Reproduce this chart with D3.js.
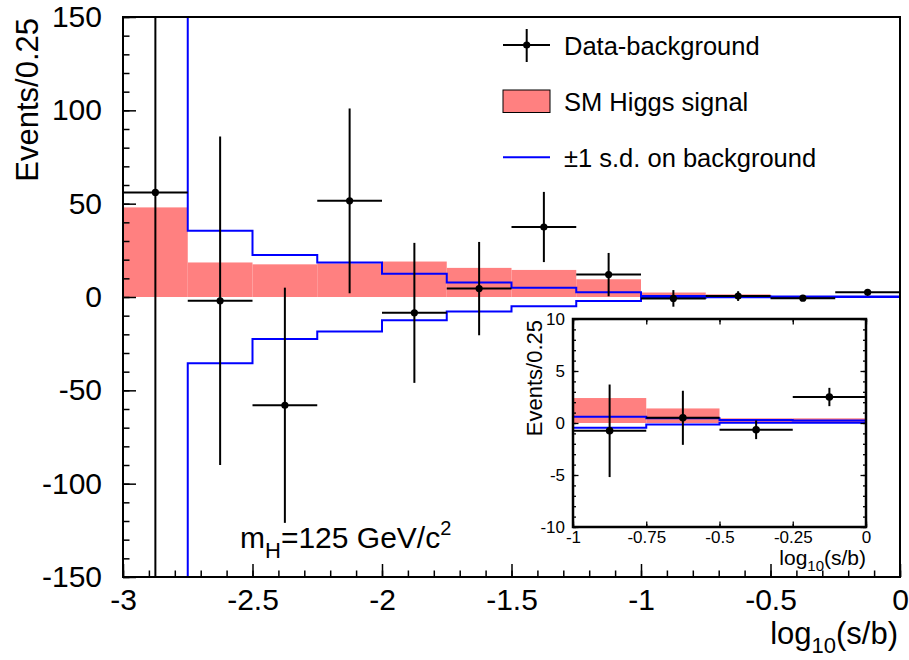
<!DOCTYPE html>
<html>
<head>
<meta charset="utf-8">
<script src="https://cdn.jsdelivr.net/npm/d3@7"></script>
<style>
  body { margin: 0; background: #fff; }
  svg { display: block; }
  text { font-family: "Liberation Sans", Arial, Helvetica, sans-serif; fill: #000; }
</style>
</head>
<body>
<svg id="chart" width="909" height="660"></svg>
<script>
// Bins in log10(s/b), width 0.25
const binLow = [-3, -2.75, -2.5, -2.25, -2, -1.75, -1.5, -1.25, -1, -0.75, -0.5, -0.25];
const binWidth = 0.25;

// Data minus background, with its uncertainty
const dataValues = [56, -2, -58, 51.5, -8.5, 4.5, 37.5, 12, -0.75, 0.5, -0.65, 2.5];
const dataErrors = [215, 88, 63, 49.5, 37.5, 25, 18.8, 11.6, 4.45, 2.6, 0.9, 0.88];

// Expected SM Higgs signal (mH = 125)
const signalValues = [48, 18.5, 17.5, 18, 19, 15.6, 14.5, 9.5, 2.4, 1.4, 0.45, 0.45];

// +/- 1 s.d. on the background
const bkgUpper = [170, 35.5, 22.5, 18.5, 12.5, 7.8, 5, 2.5, 0.6, 0.45, 0.3, 0.25];
const bkgLower = [-170, -35.5, -22.5, -18.5, -12.5, -7.8, -5, -2.2, -0.45, -0.15, 0.02, 0.02];

// Axis ticks
const mainXTicks = [-3, -2.5, -2, -1.5, -1, -0.5, 0];
const mainYTicks = [-150, -100, -50, 0, 50, 100, 150];
const insetXTicks = [-1, -0.75, -0.5, -0.25, 0];
const insetYTicks = [-10, -5, 0, 5, 10];

const legendLabels = ["Data-background", "SM Higgs signal", "\u00B11 s.d. on background"];

const SIGNAL_FILL = "#ff8080";
const BKG_BLUE = "#0000ff";

const svg = d3.select("#chart");
const bins = binLow.map((lo, i) => ({
  lo, hi: lo + binWidth, c: lo + binWidth / 2,
  v: dataValues[i], e: dataErrors[i], s: signalValues[i],
  up: bkgUpper[i], dn: bkgLower[i]
}));

function rangeTicks(a, b, step) {
  const out = [];
  const n = Math.round((b - a) / step);
  for (let i = 0; i <= n; i++) out.push(+(a + i * step).toFixed(6));
  return out;
}

function drawPanel(g, x, y, sel, opts) {
  const [x0, x1] = x.range();
  const [y1, y0] = y.range();
  const id = opts.id;
  g.append("clipPath").attr("id", id)
    .append("rect").attr("x", x0).attr("y", y0).attr("width", x1 - x0).attr("height", y1 - y0);
  const c = g.append("g").attr("clip-path", `url(#${id})`);

  // signal histogram
  c.selectAll("rect.sig").data(sel).join("rect")
    .attr("class", "sig")
    .attr("x", d => x(d.lo))
    .attr("width", d => x(d.hi) - x(d.lo))
    .attr("y", d => y(Math.max(0, d.s)))
    .attr("height", d => Math.abs(y(0) - y(d.s)))
    .attr("fill", SIGNAL_FILL);

  // background uncertainty steps
  const stepLine = key => {
    const pts = sel.map(d => [d.lo, d[key]]);
    const last = sel[sel.length - 1];
    pts.push([last.hi, last[key]]);
    return d3.line().x(p => x(p[0])).y(p => y(p[1])).curve(d3.curveStepAfter)(pts);
  };
  ["up", "dn"].forEach(k => {
    c.append("path").attr("d", stepLine(k))
      .attr("fill", "none").attr("stroke", BKG_BLUE).attr("stroke-width", opts.lw);
  });

  // data points with error bars
  const pg = c.selectAll("g.pt").data(sel).join("g").attr("class", "pt");
  pg.append("line")
    .attr("x1", d => x(d.lo)).attr("x2", d => x(d.hi))
    .attr("y1", d => y(d.v)).attr("y2", d => y(d.v))
    .attr("stroke", "#000").attr("stroke-width", opts.lw);
  pg.append("line")
    .attr("x1", d => x(d.c)).attr("x2", d => x(d.c))
    .attr("y1", d => y(d.v + d.e)).attr("y2", d => y(d.v - d.e))
    .attr("stroke", "#000").attr("stroke-width", opts.lw);
  pg.append("circle")
    .attr("cx", d => x(d.c)).attr("cy", d => y(d.v)).attr("r", opts.r)
    .attr("fill", "#000");
}

function drawAxes(g, x, y, o) {
  const [x0, x1] = x.range();
  const [yb, yt] = y.range();
  const fmt = d => String(d);

  // bottom axis
  const bx = g.append("g").attr("transform", `translate(0,${yb})`);
  bx.call(d3.axisBottom(x).tickValues(o.xMinor).tickSize(-o.minor).tickSizeOuter(0).tickFormat(""));
  const bxM = g.append("g").attr("transform", `translate(0,${yb})`);
  bxM.call(d3.axisBottom(x).tickValues(o.xMajor).tickSize(-o.major).tickSizeOuter(0).tickFormat(fmt).tickPadding(o.xPad));

  // left axis
  const ly = g.append("g").attr("transform", `translate(${x0},0)`);
  ly.call(d3.axisLeft(y).tickValues(o.yMinor).tickSize(-o.minor).tickSizeOuter(0).tickFormat(""));
  const lyM = g.append("g").attr("transform", `translate(${x0},0)`);
  lyM.call(d3.axisLeft(y).tickValues(o.yMajor).tickSize(-o.major).tickSizeOuter(0).tickFormat(fmt).tickPadding(o.yPad));

  if (o.mirror) {
    const ty = g.append("g").attr("transform", `translate(0,${yt})`);
    ty.call(d3.axisTop(x).tickValues(o.xMinor).tickSize(-o.minor).tickSizeOuter(0).tickFormat(""));
    const tyM = g.append("g").attr("transform", `translate(0,${yt})`);
    tyM.call(d3.axisTop(x).tickValues(o.xMajor).tickSize(-o.major).tickSizeOuter(0).tickFormat(""));
    const ry = g.append("g").attr("transform", `translate(${x1},0)`);
    ry.call(d3.axisRight(y).tickValues(o.yMinor).tickSize(-o.minor).tickSizeOuter(0).tickFormat(""));
    const ryM = g.append("g").attr("transform", `translate(${x1},0)`);
    ryM.call(d3.axisRight(y).tickValues(o.yMajor).tickSize(-o.major).tickSizeOuter(0).tickFormat(""));
  }

  g.selectAll(".domain").remove();
  g.selectAll(".tick line").attr("stroke", "#000").attr("stroke-width", o.tickW);
  g.selectAll(".tick text")
    .style("font-family", '"Liberation Sans", Arial, Helvetica, sans-serif')
    .style("font-size", o.font + "px").attr("fill", "#000");

  // frame
  g.append("rect").attr("x", x0).attr("y", yt).attr("width", x1 - x0).attr("height", yb - yt)
    .attr("fill", "none").attr("stroke", "#000").attr("stroke-width", o.frameW);
}

function logTitle(g, xr, yb, size, subSize, subShift) {
  const t = g.append("text").attr("x", xr).attr("y", yb).attr("text-anchor", "end")
    .style("font-size", size + "px");
  t.append("tspan").text("log");
  t.append("tspan").attr("dy", subShift).style("font-size", subSize + "px").text("10");
  t.append("tspan").attr("dy", -subShift).text("(s/b)");
}

// ---------- main panel ----------
const M = { l: 123, r: 900, t: 17, b: 577 };
const x = d3.scaleLinear().domain([-3, 0]).range([M.l, M.r]);
const y = d3.scaleLinear().domain([-150, 150]).range([M.b, M.t]);

const main = svg.append("g");
drawPanel(main, x, y, bins, { id: "clipMain", lw: 2, r: 3.6 });
drawAxes(main, x, y, {
  xMajor: mainXTicks, xMinor: rangeTicks(-3, 0, 0.1),
  yMajor: mainYTicks, yMinor: rangeTicks(-150, 150, 10),
  major: 13, minor: 6.5, tickW: 1.5, frameW: 2, font: 30,
  xPad: 12, yPad: 21, mirror: false
});

// y title
main.append("text")
  .attr("transform", "translate(38,18) rotate(-90)")
  .attr("text-anchor", "end").style("font-size", "31px").text("Events/0.25");
// x title
logTitle(main, 898, 644, 31, 22, 9);

// mass label
const ml = main.append("text").attr("x", 240).attr("y", 548).style("font-size", "30px");
ml.append("tspan").text("m");
ml.append("tspan").attr("dy", 10).style("font-size", "22px").text("H");
ml.append("tspan").attr("dy", -10).text("=125 GeV/c");
ml.append("tspan").attr("dy", -13).style("font-size", "20px").text("2");

// legend
const lg = main.append("g");
lg.append("line").attr("x1", 503).attr("x2", 550).attr("y1", 45).attr("y2", 45)
  .attr("stroke", "#000").attr("stroke-width", 2);
lg.append("line").attr("x1", 526.7).attr("x2", 526.7).attr("y1", 29).attr("y2", 62)
  .attr("stroke", "#000").attr("stroke-width", 2);
lg.append("circle").attr("cx", 526.7).attr("cy", 45).attr("r", 3.6).attr("fill", "#000");
lg.append("rect").attr("x", 503).attr("y", 90).attr("width", 47).attr("height", 22.5)
  .attr("fill", SIGNAL_FILL).attr("stroke", "#000").attr("stroke-width", 1);
lg.append("line").attr("x1", 503).attr("x2", 550).attr("y1", 157.3).attr("y2", 157.3)
  .attr("stroke", BKG_BLUE).attr("stroke-width", 2);
const legendY = [55, 111, 166.5];
legendLabels.forEach((s, i) => {
  lg.append("text").attr("x", 564).attr("y", legendY[i]).style("font-size", "25.5px").text(s);
});

// ---------- inset panel ----------
const I = { l: 573, r: 866, t: 319, b: 527 };
const xi = d3.scaleLinear().domain([-1, 0]).range([I.l, I.r]);
const yi = d3.scaleLinear().domain([-10, 10]).range([I.b, I.t]);
const inset = svg.append("g");
inset.append("rect").attr("x", I.l).attr("y", I.t).attr("width", I.r - I.l).attr("height", I.b - I.t)
  .attr("fill", "#fff");
drawPanel(inset, xi, yi, bins.filter(d => d.lo >= -1), { id: "clipInset", lw: 2, r: 3.8 });
drawAxes(inset, xi, yi, {
  xMajor: insetXTicks, xMinor: insetXTicks,
  yMajor: insetYTicks, yMinor: rangeTicks(-10, 10, 1),
  major: 5.5, minor: 3, tickW: 1.3, frameW: 2.5, font: 17,
  xPad: 3.5, yPad: 8, mirror: true
});
inset.append("text")
  .attr("transform", "translate(541.5,320) rotate(-90)")
  .attr("text-anchor", "end").style("font-size", "22px").text("Events/0.25");
logTitle(inset, 866, 565, 21, 15, 6);
</script>
</body>
</html>
